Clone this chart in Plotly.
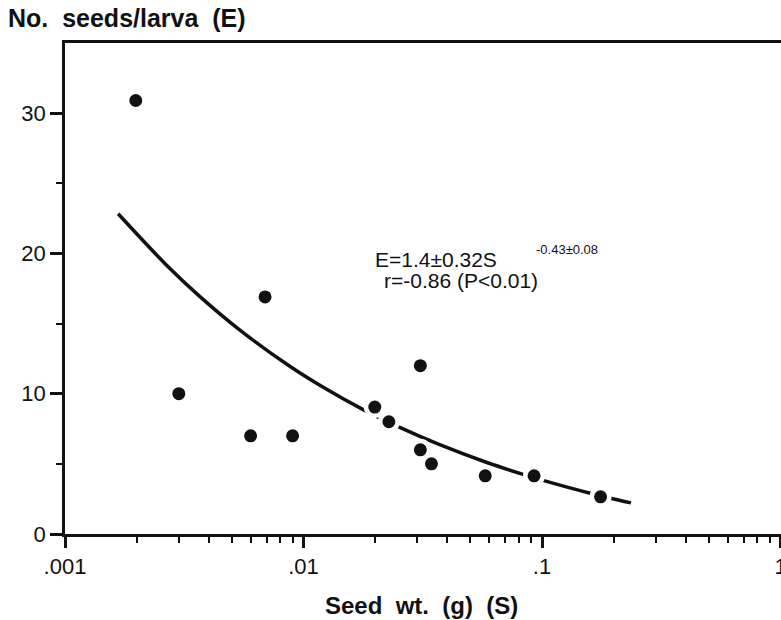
import plotly.graph_objects as go

# Observed data points: seed weight (g) and number of seeds per larva
seed_wt = [0.00198, 0.0030, 0.0060, 0.0069, 0.0090, 0.0199, 0.0228, 0.0309, 0.0309, 0.0344, 0.0578, 0.0926, 0.176]
seeds_per_larva = [30.9, 10.0, 7.0, 16.9, 7.0, 9.05, 8.0, 12.0, 6.0, 5.0, 4.15, 4.15, 2.65]

# Fitted curve as drawn in the figure
curve_x = [0.00167, 0.00266, 0.00366, 0.00538, 0.0087, 0.01195, 0.01755, 0.02546, 0.03679, 0.05951, 0.08331, 0.101, 0.1606, 0.236]
curve_y = [22.83, 19.18, 16.96, 14.57, 11.99, 10.51, 8.92, 7.58, 6.40, 5.06, 4.25, 3.82, 2.89, 2.22]

x_tickvals = [0.001, 0.01, 0.1, 1]
x_ticktext = [".001", ".01", ".1", "1"]
x_minor = [m * d for d in (0.001, 0.01, 0.1) for m in range(2, 10)]
y_tickvals = [0, 10, 20, 30]
y_minor = [5, 15, 25]

FONT = "Liberation Sans, Arial, Helvetica, sans-serif"
INK = "#111111"

fig = go.Figure()
fig.add_trace(go.Scatter(
    x=curve_x, y=curve_y, mode="lines",
    line=dict(color=INK, width=3.5, shape="spline", smoothing=0.9),
    hoverinfo="skip", showlegend=False,
))
fig.add_trace(go.Scatter(
    x=seed_wt, y=seeds_per_larva, mode="markers",
    marker=dict(color=INK, size=17.5, line=dict(color="white", width=4.5)),
    showlegend=False,
))

axis_common = dict(
    showline=True, linecolor=INK, linewidth=2.5, mirror=True,
    ticks="outside", tickcolor=INK, tickwidth=2.5,
    showgrid=False, zeroline=False, automargin=False,
    ticklabeloverflow="allow",
    tickfont=dict(family=FONT, size=22, color=INK),
)

fig.update_layout(
    width=781, height=620,
    margin=dict(l=65, r=0, t=43, b=86, pad=0),
    plot_bgcolor="white", paper_bgcolor="white",
    xaxis=dict(
        type="log", range=[-3, 0.002],
        tickmode="array", tickvals=x_tickvals, ticktext=x_ticktext,
        ticklen=11,
        minor=dict(tickmode="array", tickvals=x_minor, ticklen=6,
                   tickwidth=2, tickcolor=INK, ticks="outside", showgrid=False),
        **axis_common,
    ),
    yaxis=dict(
        range=[0, 35],
        tickmode="array", tickvals=y_tickvals,
        ticklen=12,
        minor=dict(tickmode="array", tickvals=y_minor, ticklen=6,
                   tickwidth=2, tickcolor=INK, ticks="outside", showgrid=False),
        **axis_common,
    ),
)

def px_x(px):
    return (px - 65) / 716.0

def px_y(py):
    return (534 - py) / 491.0

annots = [
    dict(text="<b>No.  seeds/larva  (E)</b>", x=px_x(6), y=px_y(18),
         xanchor="left", yanchor="middle", font=dict(size=25)),
    dict(text="<b>Seed  wt.  (g)  (S)</b>", x=px_x(421), y=px_y(605),
         xanchor="center", yanchor="middle", font=dict(size=24)),
    dict(text="E=1.4±0.32S", x=px_x(373), y=px_y(259),
         xanchor="left", yanchor="middle", font=dict(size=21)),
    dict(text="-0.43±0.08", x=px_x(534), y=px_y(249),
         xanchor="left", yanchor="middle", font=dict(size=13)),
    dict(text="r=-0.86 (P<0.01)", x=px_x(382), y=px_y(280),
         xanchor="left", yanchor="middle", font=dict(size=21)),
]
for a in annots:
    a["font"].update(family=FONT, color=INK)
    fig.add_annotation(xref="paper", yref="paper", showarrow=False, **a)

fig.write_html(
    "out.html",
    config={"displayModeBar": False},
    post_script="document.body.style.margin='0';document.body.style.overflow='hidden';",
)
